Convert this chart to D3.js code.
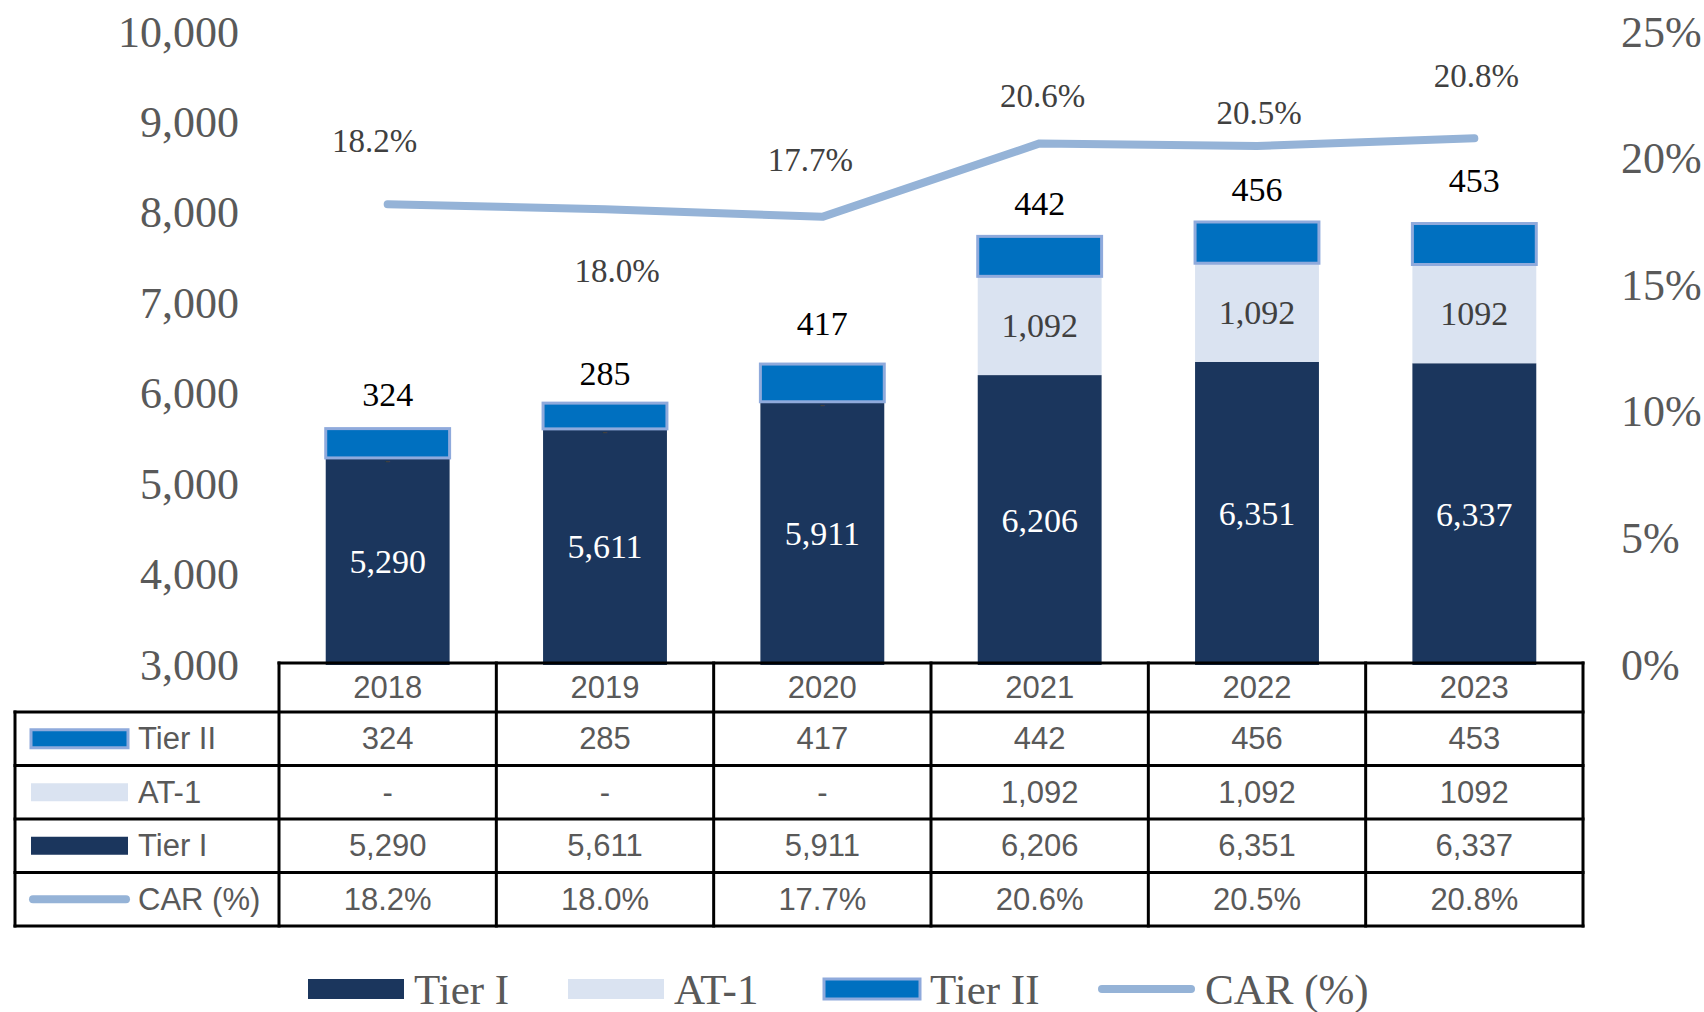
<!DOCTYPE html>
<html>
<head>
<meta charset="utf-8">
<script src="https://cdn.jsdelivr.net/npm/d3@7"></script>
<style>
  body { margin: 0; background: #fff; }
  svg { display: block; }
</style>
</head>
<body>
<div id="vis"></div>
<script>
// data
const years = ['2018', '2019', '2020', '2021', '2022', '2023'];
const tier1 = [5290, 5611, 5911, 6206, 6351, 6337];
const at1 = [0, 0, 0, 1092, 1092, 1092];
const tier2 = [324, 285, 417, 442, 456, 453];
const car = [0.182, 0.180, 0.177, 0.206, 0.205, 0.208];
const at1Labels = ['-', '-', '-', '1,092', '1,092', '1092'];
const leftTicks = [3000, 4000, 5000, 6000, 7000, 8000, 9000, 10000];
const rightTicks = [0, 0.05, 0.10, 0.15, 0.20, 0.25];

const width = 1704, height = 1012;
const serif = '"Liberation Serif", "Times New Roman", serif';
const sans = '"Liberation Sans", Arial, sans-serif';
const colTier1 = '#1b365d', colAt1 = '#dae3f1', colTier2 = '#0070c0', colEdge = '#8faadc', colCar = '#95b3d7';
const grey = '#595959';

// layout
const plotTop = 32, plotBottom = 665;
const tableLeft = 15, tableMid = 279, tableRight = 1583;
const headTop = 663, headBottom = 712, rowH = 53.5;
// label nudges (hand placed in the original)
const carLabelDx = [-13, 12, -12, 3, 2, 2];
const carLabelDy = [-63, 62, -57, -47, -33, -62];
const tier2LabelDy = [-34, -30, -41, -33, -32, -43];

const svg = d3.select('#vis').append('svg')
  .attr('width', width)
  .attr('height', height);

// scales
const cols = d3.scaleBand().domain(years).range([tableMid, tableRight]);
const barW = cols.bandwidth() * 0.57;
const cx = d => cols(d) + cols.bandwidth() / 2;
const yL = d3.scaleLinear().domain([3000, 10000]).range([plotBottom, plotTop]);
const yR = d3.scaleLinear().domain([0, 0.25]).range([plotBottom, plotTop]);

// axes
const axL = svg.append('g')
  .attr('transform', 'translate(239,0)')
  .call(d3.axisLeft(yL).tickValues(leftTicks).tickFormat(d3.format(',')).tickSize(0).tickPadding(0));
const axR = svg.append('g')
  .attr('transform', 'translate(1621,0)')
  .call(d3.axisRight(yR).tickValues(rightTicks).tickFormat(d3.format('.0%')).tickSize(0).tickPadding(0));
[axL, axR].forEach(g => {
  g.select('.domain').remove();
  g.selectAll('text').attr('font-family', serif).attr('font-size', 44).attr('fill', grey);
});

// bars
const rows = years.map((y, i) => ({year: y, t1: tier1[i], a1: at1[i], t2: tier2[i], car: car[i], a1l: at1Labels[i]}));
const bx = d => cx(d.year) - barW / 2;

svg.selectAll('rect.t1').data(rows).enter().append('rect')
  .attr('class', 't1')
  .attr('x', bx).attr('width', barW)
  .attr('y', d => yL(d.t1))
  .attr('height', d => yL(3000) - yL(d.t1))
  .attr('fill', colTier1);

svg.selectAll('rect.a1').data(rows.filter(d => d.a1 > 0)).enter().append('rect')
  .attr('class', 'a1')
  .attr('x', bx).attr('width', barW)
  .attr('y', d => yL(d.t1 + d.a1))
  .attr('height', d => yL(d.t1) - yL(d.t1 + d.a1))
  .attr('fill', colAt1);

svg.selectAll('rect.t2').data(rows).enter().append('rect')
  .attr('class', 't2')
  .attr('x', bx).attr('width', barW)
  .attr('y', d => yL(d.t1 + d.a1 + d.t2))
  .attr('height', d => yL(d.t1 + d.a1) - yL(d.t1 + d.a1 + d.t2))
  .attr('fill', colTier2)
  .attr('stroke', colEdge)
  .attr('stroke-width', 3);

// bar labels
svg.selectAll('text.t1').data(rows).enter().append('text')
  .attr('x', d => cx(d.year))
  .attr('y', d => (yL(d.t1) + yL(3000)) / 2)
  .attr('text-anchor', 'middle').attr('dominant-baseline', 'central')
  .attr('font-family', serif).attr('font-size', 34).attr('fill', '#fff')
  .text(d => d3.format(',')(d.t1));

svg.selectAll('text.a1').data(rows).enter().append('text')
  .attr('x', d => cx(d.year))
  .attr('y', d => d.a1 > 0 ? (yL(d.t1) + yL(d.t1 + d.a1)) / 2 : yL(d.t1) + 3)
  .attr('text-anchor', 'middle').attr('dominant-baseline', 'central')
  .attr('font-family', serif).attr('font-size', d => d.a1 > 0 ? 34 : 16).attr('fill', '#404040')
  .text(d => d.a1l);

svg.selectAll('text.t2').data(rows).enter().append('text')
  .attr('x', d => cx(d.year))
  .attr('y', (d, i) => yL(d.t1 + d.a1 + d.t2) + tier2LabelDy[i])
  .attr('text-anchor', 'middle').attr('dominant-baseline', 'central')
  .attr('font-family', serif).attr('font-size', 34).attr('fill', '#000')
  .text(d => d.t2);

// CAR line
const carLine = d3.line().x(d => cx(d.year)).y(d => yR(d.car));
svg.append('path')
  .attr('d', carLine(rows))
  .attr('fill', 'none')
  .attr('stroke', colCar)
  .attr('stroke-width', 8)
  .attr('stroke-linecap', 'round')
  .attr('stroke-linejoin', 'round');

svg.selectAll('text.car').data(rows).enter().append('text')
  .attr('x', (d, i) => cx(d.year) + carLabelDx[i])
  .attr('y', (d, i) => yR(d.car) + carLabelDy[i])
  .attr('text-anchor', 'middle').attr('dominant-baseline', 'central')
  .attr('font-family', serif).attr('font-size', 33).attr('fill', '#404040')
  .text(d => d3.format('.1%')(d.car));

// data table
const table = svg.append('g');
const rowTop = i => headBottom + i * rowH;
const tableBottom = rowTop(4);
const tableRows = [
  {label: 'Tier II', vals: tier2.map(String), key: 't2'},
  {label: 'AT-1', vals: at1Labels, key: 'a1'},
  {label: 'Tier I', vals: tier1.map(d3.format(',')), key: 't1'},
  {label: 'CAR (%)', vals: car.map(d3.format('.1%')), key: 'car'}
];

// header
table.selectAll('text.head').data(years).enter().append('text')
  .attr('x', d => cx(d))
  .attr('y', (headTop + headBottom) / 2)
  .attr('text-anchor', 'middle').attr('dominant-baseline', 'central')
  .attr('font-family', sans).attr('font-size', 31).attr('fill', grey)
  .text(d => d);

tableRows.forEach((r, i) => {
  const ym = rowTop(i) + rowH / 2;
  table.append('text')
    .attr('x', 138).attr('y', ym)
    .attr('dominant-baseline', 'central')
    .attr('font-family', sans).attr('font-size', 31).attr('fill', grey)
    .text(r.label);
  table.selectAll('text.v' + i).data(r.vals).enter().append('text')
    .attr('x', (d, j) => cx(years[j]))
    .attr('y', ym)
    .attr('text-anchor', 'middle').attr('dominant-baseline', 'central')
    .attr('font-family', sans).attr('font-size', 31).attr('fill', grey)
    .text(d => d);
  // key swatch
  if (r.key === 'car') {
    table.append('line')
      .attr('x1', 33).attr('x2', 126).attr('y1', ym).attr('y2', ym)
      .attr('stroke', colCar).attr('stroke-width', 8).attr('stroke-linecap', 'round');
  } else {
    const fill = r.key === 't1' ? colTier1 : r.key === 'a1' ? colAt1 : colTier2;
    table.append('rect')
      .attr('x', 31).attr('y', ym - 9).attr('width', 97).attr('height', 18)
      .attr('fill', fill)
      .attr('stroke', r.key === 't2' ? colEdge : 'none')
      .attr('stroke-width', 3);
  }
});

// grid lines
const lineStyle = sel => sel.attr('stroke', '#000').attr('stroke-width', 3).attr('stroke-linecap', 'square');
lineStyle(table.append('line').attr('x1', tableMid).attr('x2', tableRight).attr('y1', headTop).attr('y2', headTop));
[0, 1, 2, 3, 4].forEach(i => {
  lineStyle(table.append('line').attr('x1', tableLeft).attr('x2', tableRight).attr('y1', rowTop(i)).attr('y2', rowTop(i)));
});
lineStyle(table.append('line').attr('x1', tableLeft).attr('x2', tableLeft).attr('y1', headBottom).attr('y2', tableBottom));
years.forEach(y => {
  lineStyle(table.append('line').attr('x1', cols(y)).attr('x2', cols(y)).attr('y1', headTop).attr('y2', tableBottom));
});
lineStyle(table.append('line').attr('x1', tableRight).attr('x2', tableRight).attr('y1', headTop).attr('y2', tableBottom));

// bottom legend
const legendItems = [
  {name: 'Tier I', x: 307, type: 'rect', fill: colTier1},
  {name: 'AT-1', x: 567, type: 'rect', fill: colAt1},
  {name: 'Tier II', x: 823, type: 'rect', fill: colTier2, edge: colEdge},
  {name: 'CAR (%)', x: 1098, type: 'line'}
];
const legY = 989;
const leg = svg.append('g');
legendItems.forEach(it => {
  if (it.type === 'rect') {
    leg.append('rect')
      .attr('x', it.x + 1).attr('y', legY - 10).attr('width', 96).attr('height', 20)
      .attr('fill', it.fill)
      .attr('stroke', it.edge || 'none').attr('stroke-width', 3);
  } else {
    leg.append('line')
      .attr('x1', it.x + 4).attr('x2', it.x + 93).attr('y1', legY).attr('y2', legY)
      .attr('stroke', colCar).attr('stroke-width', 8).attr('stroke-linecap', 'round');
  }
  leg.append('text')
    .attr('x', it.x + 107).attr('y', legY)
    .attr('dominant-baseline', 'central')
    .attr('font-family', serif).attr('font-size', 43).attr('fill', grey)
    .text(it.name);
});
</script>
</body>
</html>
